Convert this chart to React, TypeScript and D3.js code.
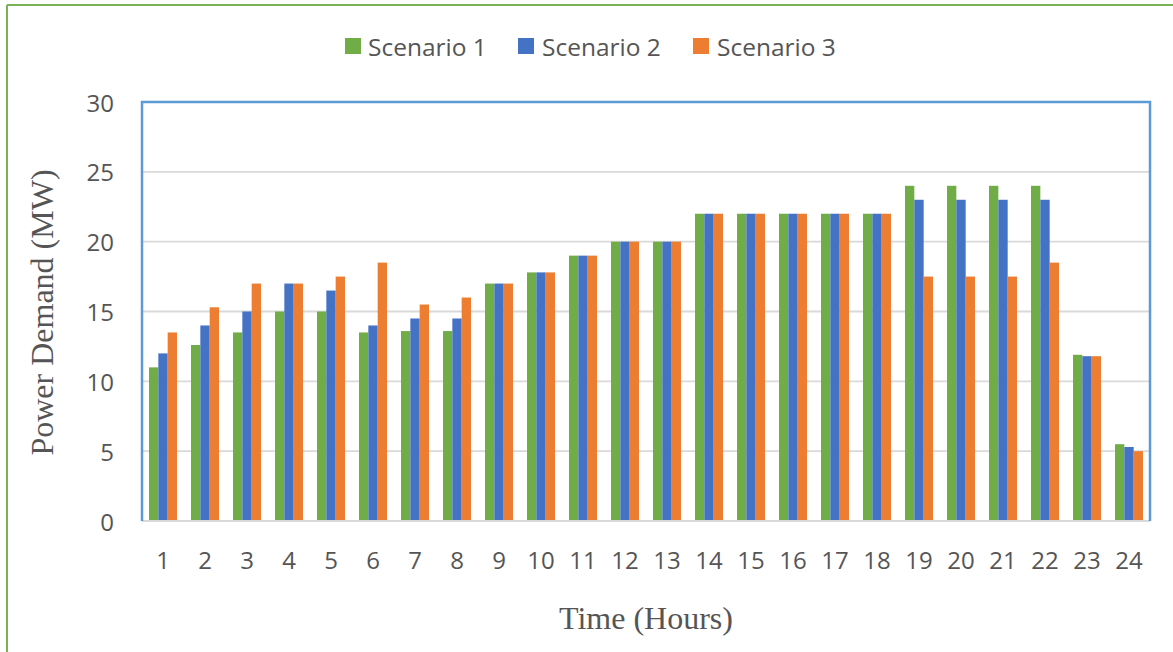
import React from "react";
import * as d3 from "d3";

// Hourly power demand (MW) for three operating scenarios
const hours = [
  "1", "2", "3", "4", "5", "6", "7", "8", "9", "10", "11", "12",
  "13", "14", "15", "16", "17", "18", "19", "20", "21", "22", "23", "24",
];
const scenario1 = [
  11.0, 12.6, 13.5, 15.0, 15.0, 13.5, 13.6, 13.6, 17.0, 17.8, 19.0, 20.0,
  20.0, 22.0, 22.0, 22.0, 22.0, 22.0, 24.0, 24.0, 24.0, 24.0, 11.9, 5.5,
];
const scenario2 = [
  12.0, 14.0, 15.0, 17.0, 16.5, 14.0, 14.5, 14.5, 17.0, 17.8, 19.0, 20.0,
  20.0, 22.0, 22.0, 22.0, 22.0, 22.0, 23.0, 23.0, 23.0, 23.0, 11.8, 5.3,
];
const scenario3 = [
  13.5, 15.3, 17.0, 17.0, 17.5, 18.5, 15.5, 16.0, 17.0, 17.8, 19.0, 20.0,
  20.0, 22.0, 22.0, 22.0, 22.0, 22.0, 17.5, 17.5, 17.5, 18.5, 11.8, 5.0,
];
const seriesNames = ["Scenario 1", "Scenario 2", "Scenario 3"];
const seriesColors = ["#70AD47", "#4472C4", "#ED7D31"];
const yTicks = [0, 5, 10, 15, 20, 25, 30];

const W = 1173;
const H = 652;
const plot = { left: 142, right: 1150, top: 102, bottom: 521 };
const textColor = "#555555";
const sansFont = "'Open Sans', sans-serif";
const serifFont = "'Liberation Serif', 'Times New Roman', serif";

export default function App() {
  const series = [scenario1, scenario2, scenario3];

  const x = d3
    .scaleBand<string>()
    .domain(hours)
    .range([plot.left, plot.right])
    .paddingInner(1 / 3)
    .paddingOuter(1 / 6);

  const xs = d3
    .scaleBand<string>()
    .domain(seriesNames)
    .range([0, x.bandwidth()]);

  const y = d3.scaleLinear().domain([0, 30]).range([plot.bottom, plot.top]);

  // legend layout: swatch x, text x
  const legendItems = [
    { sx: 345, tx: 368 },
    { sx: 518, tx: 542 },
    { sx: 693, tx: 717 },
  ];

  return (
    <svg
      width={W}
      height={H}
      style={{ position: "fixed", left: 0, top: 0, background: "#fff" }}
    >
      <rect x={0} y={0} width={W} height={H} fill="#fff" />

      {/* outer frame (left and top edges) */}
      <line x1={7} y1={5} x2={7} y2={H} stroke="#7AB356" strokeWidth={2} />
      <line x1={7} y1={5} x2={W} y2={5} stroke="#7AB356" strokeWidth={2} />

      {/* legend */}
      {seriesNames.map((name, i) => (
        <g key={name}>
          <rect
            x={legendItems[i].sx}
            y={38}
            width={16}
            height={16}
            fill={seriesColors[i]}
          />
          <text
            x={legendItems[i].tx}
            y={46}
            dominantBaseline="central"
            fontFamily={sansFont}
            fontSize={24.5}
            fill={textColor}
          >
            {name}
          </text>
        </g>
      ))}

      {/* horizontal gridlines */}
      {yTicks
        .filter((t) => t > 0 && t < 30)
        .map((t) => (
          <line
            key={t}
            x1={plot.left}
            x2={plot.right}
            y1={y(t)}
            y2={y(t)}
            stroke="#D9D9D9"
            strokeWidth={1.8}
          />
        ))}

      {/* bars */}
      {series.map((vals, si) =>
        vals.map((v, i) => (
          <rect
            key={`${si}-${i}`}
            x={(x(hours[i]) as number) + (xs(seriesNames[si]) as number)}
            y={y(v)}
            width={xs.bandwidth()}
            height={y(0) - y(v)}
            fill={seriesColors[si]}
          />
        ))
      )}

      {/* category axis line */}
      <line
        x1={plot.left}
        x2={plot.right}
        y1={y(0)}
        y2={y(0)}
        stroke="#D9D9D9"
        strokeWidth={2.2}
      />

      {/* plot area border (left, top, right) */}
      <path
        d={`M${plot.left},${plot.bottom} V${plot.top} H${plot.right} V${plot.bottom}`}
        fill="none"
        stroke="#5B9BD5"
        strokeWidth={2.5}
      />

      {/* y tick labels */}
      {yTicks.map((t) => (
        <text
          key={t}
          x={114}
          y={y(t)}
          textAnchor="end"
          dominantBaseline="central"
          fontFamily={sansFont}
          fontSize={24}
          fill={textColor}
        >
          {t}
        </text>
      ))}

      {/* x tick labels */}
      {hours.map((h) => (
        <text
          key={h}
          x={(x(h) as number) + x.bandwidth() / 2}
          y={559}
          textAnchor="middle"
          dominantBaseline="central"
          fontFamily={sansFont}
          fontSize={24}
          fill={textColor}
        >
          {h}
        </text>
      ))}

      {/* axis titles */}
      <text
        x={(plot.left + plot.right) / 2}
        y={629}
        textAnchor="middle"
        fontFamily={serifFont}
        fontSize={32}
        fill={textColor}
      >
        Time (Hours)
      </text>
      <text
        transform={`translate(53, ${(plot.top + plot.bottom) / 2 + 1}) rotate(-90)`}
        textAnchor="middle"
        fontFamily={serifFont}
        fontSize={32}
        fill={textColor}
      >
        Power Demand (MW)
      </text>
    </svg>
  );
}
